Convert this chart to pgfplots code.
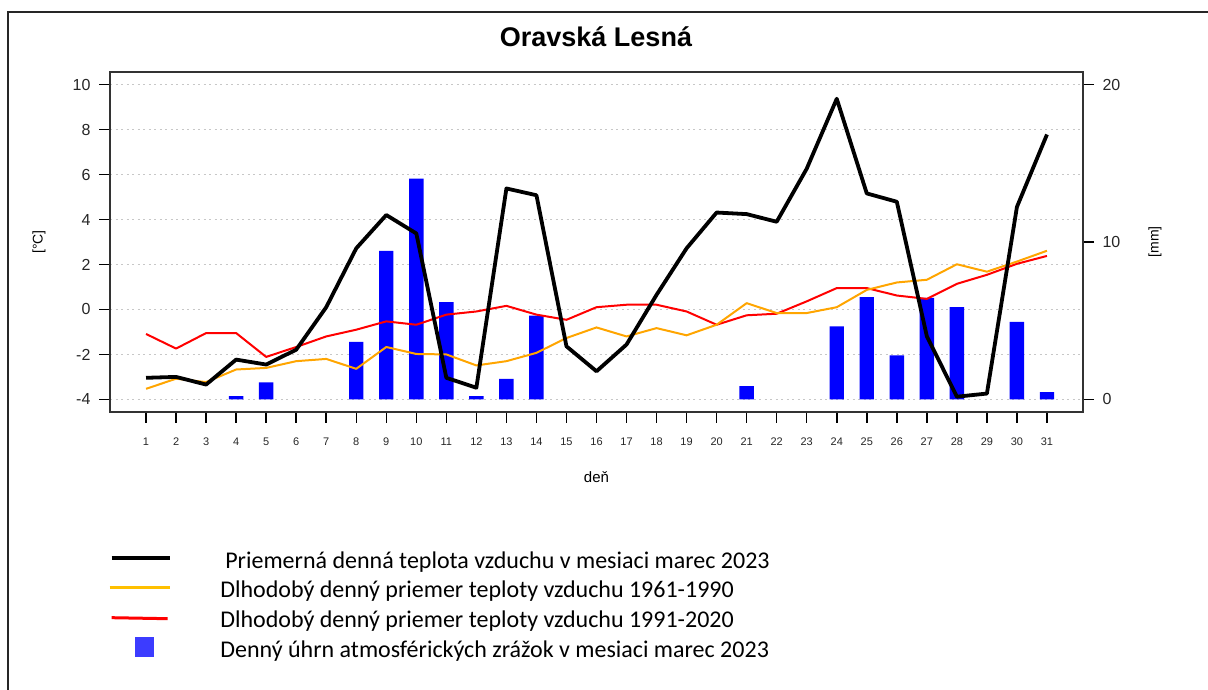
\documentclass[border=0pt]{standalone}
\usepackage{pgfplots}
\pgfplotsset{compat=1.18}
\usepackage{pgfplotstable}
\usepackage{fontspec}
\setmainfont{Liberation Sans}
\newfontfamily\carlito{Carlito}
\definecolor{rorange}{RGB}{255,165,0}
\definecolor{lorange}{RGB}{255,192,0}
\definecolor{rred}{RGB}{255,0,0}
\definecolor{lblue}{RGB}{60,60,255}

\pgfplotstableread{
day T t61 t91
1 -3.04 -3.53 -1.09
2 -3.00 -3.08 -1.74
3 -3.34 -3.23 -1.05
4 -2.23 -2.67 -1.05
5 -2.45 -2.60 -2.11
6 -1.79 -2.30 -1.67
7 0.10 -2.20 -1.20
8 2.72 -2.64 -0.90
9 4.20 -1.67 -0.53
10 3.38 -1.98 -0.68
11 -3.04 -2.00 -0.23
12 -3.48 -2.49 -0.09
13 5.38 -2.30 0.16
14 5.08 -1.93 -0.23
15 -1.64 -1.27 -0.46
16 -2.75 -0.80 0.10
17 -1.56 -1.20 0.21
18 0.65 -0.83 0.21
19 2.72 -1.15 -0.09
20 4.31 -0.68 -0.68
21 4.24 0.28 -0.26
22 3.90 -0.16 -0.19
23 6.26 -0.16 0.36
24 9.37 0.10 0.95
25 5.16 0.87 0.95
26 4.79 1.20 0.62
27 -1.19 1.32 0.47
28 -3.88 2.01 1.14
29 -3.74 1.68 1.54
30 4.56 2.13 2.03
31 7.78 2.61 2.38
}\temps

\pgfplotstableread{
day P
4 0.21
5 1.08
8 3.65
9 9.43
10 14.03
11 6.18
12 0.21
13 1.30
14 5.32
21 0.84
24 4.64
25 6.50
26 2.80
27 6.45
28 5.86
30 4.92
31 0.46
}\prec

\begin{document}
\begin{tikzpicture}
\useasboundingbox (0pt,0pt) rectangle (1208pt,690pt);
\draw[line width=2pt, black!85] (8pt,0pt) -- (8pt,678pt) -- (1208pt,678pt);
\node[font=\fontsize{27}{32}\selectfont\bfseries] at (596pt,653pt) {Oravská Lesná};

% precipitation axis (right)
\begin{axis}[
  at={(110pt,278pt)}, anchor=south west,
  width=973pt, height=340pt, scale only axis,
  xmin=-0.2, xmax=32.2, ymin=-0.8, ymax=20.8,
  axis x line=none, axis y line*=right,
  axis line style={line width=1.5pt, black!80, -},
  ytick={0,10,20},
  tick align=outside, major tick length=11pt,
  every tick/.append style={line width=1.5pt, black},
  extra y ticks={0,2.857,5.714,8.571,11.429,14.286,17.143,20},
  extra y tick labels={},
  extra y tick style={major tick length=0pt, grid=major,
     major grid style={black!22, line width=1.2pt, dash pattern=on 2pt off 3.5pt}},
  /pgf/number format/assume math mode=true,
  yticklabel style={font=\fontsize{16}{19}\selectfont, black!85, xshift=5pt},
  every axis y label/.style={at={(axis description cs:1.074,0.5)}, rotate=90, anchor=center, font=\fontsize{14}{17}\selectfont},
  ylabel={[mm]},
]
\addplot[ybar, bar width=0.48, fill=blue, draw=none] table[x=day,y=P]{\prec};
\end{axis}

% temperature axis (left)
\begin{axis}[
  at={(110pt,278pt)}, anchor=south west,
  width=973pt, height=340pt, scale only axis,
  xmin=-0.2, xmax=32.2, ymin=-4.56, ymax=10.56,
  xtick={1,...,31}, ytick={-4,-2,...,10},
  xtick pos=bottom, ytick pos=left,
  tick align=outside, major tick length=11pt,
  axis line style={line width=1.5pt, black!80},
  every tick/.append style={line width=1.5pt, black},
  /pgf/number format/assume math mode=true,
  xticklabel style={font=\fontsize{11}{13}\selectfont, black!85, yshift=-11pt},
  yticklabel style={font=\fontsize{16}{19}\selectfont, black!85, xshift=-5pt},
  every axis x label/.style={at={(axis description cs:0.5,-0.191)}, anchor=center, font=\fontsize{15}{18}\selectfont},
  every axis y label/.style={at={(axis description cs:-0.073,0.5)}, rotate=90, anchor=center, font=\fontsize{14}{17}\selectfont},
  xlabel={deň}, ylabel={[°C]},
]
\addplot[rred, line width=2pt, line join=round] table[x=day,y=t91]{\temps};
\addplot[rorange, line width=2pt, line join=round] table[x=day,y=t61]{\temps};
\addplot[black, line width=3.8pt, line join=round] table[x=day,y=T]{\temps};
\end{axis}

\begin{axis}[
  at={(110pt,278pt)}, anchor=south west,
  width=973pt, height=340pt, scale only axis,
  xmin=-0.2, xmax=32.2, ymin=-4.56, ymax=10.56,
  hide axis,
  legend cell align=left,
  legend style={at={(axis description cs:-0.002,-0.415)}, anchor=north west,
     draw=none, fill=none, inner sep=0pt, outer sep=0pt,
     row sep=9.8pt, column sep=49pt,
     font=\carlito\fontsize{24}{28}\selectfont,
     nodes={inner sep=0pt, text height=15pt, text depth=5pt}},
]
\addlegendimage{legend image code/.code={\draw[black, line width=3.5pt] (0pt,5pt) -- (58pt,5pt);}}
\addlegendentry{\hspace{5pt}Priemerná denná teplota vzduchu v mesiaci marec 2023}
\addlegendimage{legend image code/.code={\draw[lorange, line width=3pt] (-2pt,5pt) -- (58pt,5pt);}}
\addlegendentry{Dlhodobý denný priemer teploty vzduchu 1961-1990}
\addlegendimage{legend image code/.code={\draw[rred, line width=3pt] (0pt,5pt) -- (56pt,4pt);}}
\addlegendentry{Dlhodobý denný priemer teploty vzduchu 1991-2020}
\addlegendimage{legend image code/.code={\fill[lblue, overlay] (24pt,-4pt) rectangle (42pt,15pt); \path (0pt,0pt) (58pt,5pt);}}
\addlegendentry{Denný úhrn atmosférických zrážok v mesiaci marec 2023}
\end{axis}
\end{tikzpicture}
\end{document}
